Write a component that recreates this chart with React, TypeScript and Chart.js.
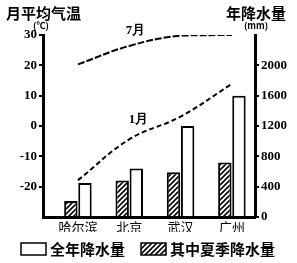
import React, { useEffect, useRef } from 'react';
import { Chart, registerables } from 'chart.js';

Chart.register(...registerables);

// ---- data ----
const cities = ['哈尔滨', '北京', '武汉', '广州'];
const annualPrecip = [450, 640, 1200, 1600]; // mm
const summerPrecip = [210, 480, 590, 720]; // mm
const julyTemp = [20.3, 26.4, 29.8, 30.0]; // °C
const janTemp = [-17.9, -4.4, 3.1, 13.9]; // °C
const tempTicks = [-30, -20, -10, 0, 10, 20, 30];
const precipTicks = [0, 400, 800, 1200, 1600, 2000, 2400];

const CJK = "'Noto Sans CJK SC', 'Noto Sans', sans-serif";
const SERIF = "'Liberation Serif', 'DejaVu Serif', serif";

const textPlugin = {
  id: 'extraTexts',
  afterDraw(chart: any) {
    const ctx = chart.ctx;
    const xs = chart.scales.x;
    const yT = chart.scales.yT;
    ctx.save();
    ctx.fillStyle = '#000';
    ctx.textBaseline = 'middle';
    ctx.font = `bold 15px ${CJK}`;
    ctx.textAlign = 'left';
    ctx.fillText('月平均气温', 6, 13);
    ctx.textAlign = 'right';
    ctx.fillText('年降水量', 286, 13);
    ctx.font = `bold 9px ${CJK}`;
    ctx.textAlign = 'center';
    ctx.fillText('(℃)', 41, 26);
    ctx.fillText('(mm)', 256, 26);
    ctx.font = `bold 13px ${SERIF}`;
    ctx.fillText('7月', xs.getPixelForValue(1.12), yT.getPixelForValue(31.6));
    ctx.fillText('1月', xs.getPixelForValue(1.18), yT.getPixelForValue(2.1));

    // legend (annual first, then summer), styled from the bar datasets
    const ds = chart.data.datasets;
    const items = [ds[1], ds[0]];
    let x = 21;
    const yBox = 243;
    const boxW = 25;
    const boxH = 12;
    ctx.font = `bold 15px ${CJK}`;
    ctx.textAlign = 'left';
    items.forEach((d: any) => {
      ctx.fillStyle = d.backgroundColor;
      ctx.fillRect(x, yBox, boxW, boxH);
      ctx.strokeStyle = '#000';
      ctx.lineWidth = 1.5;
      ctx.strokeRect(x, yBox, boxW, boxH);
      x += boxW + 4;
      ctx.fillStyle = '#000';
      ctx.fillText(d.label, x, yBox + boxH / 2 + 0.5);
      x += ctx.measureText(d.label).width + 16;
    });
    ctx.restore();
  },
};

export default function App() {
  const ref = useRef<HTMLCanvasElement | null>(null);

  useEffect(() => {
    document.body.style.margin = '0';
    const canvas = ref.current;
    if (!canvas) return;
    const ctx = canvas.getContext('2d')!;

    const pc = document.createElement('canvas');
    pc.width = 5;
    pc.height = 5;
    const p = pc.getContext('2d')!;
    p.fillStyle = '#fff';
    p.fillRect(0, 0, 5, 5);
    p.strokeStyle = '#000';
    p.lineWidth = 1.6;
    p.beginPath();
    p.moveTo(-1, 6);
    p.lineTo(6, -1);
    p.moveTo(-1, 1);
    p.lineTo(1, -1);
    p.moveTo(4, 6);
    p.lineTo(6, 4);
    p.stroke();
    const hatch = ctx.createPattern(pc, 'repeat');

    const tMin = tempTicks[0];
    const tMax = tempTicks[tempTicks.length - 1];
    const pMin = precipTicks[0];
    const pMax = precipTicks[precipTicks.length - 1];

    const chart = new Chart(ctx, {
      type: 'bar',
      data: {
        datasets: [
          {
            type: 'bar',
            label: '其中夏季降水量',
            data: summerPrecip.map((v, i) => ({ x: i, y: v })),
            yAxisID: 'yP',
            backgroundColor: hatch as any,
            borderColor: '#000',
            borderWidth: 2,
            categoryPercentage: 0.55,
            barPercentage: 0.95,
            order: 1,
          },
          {
            type: 'bar',
            label: '全年降水量',
            data: annualPrecip.map((v, i) => ({ x: i, y: v })),
            yAxisID: 'yP',
            backgroundColor: '#fff',
            borderColor: '#000',
            borderWidth: 2,
            categoryPercentage: 0.55,
            barPercentage: 0.95,
            order: 1,
          },
          {
            type: 'line',
            label: '7月',
            data: julyTemp.map((v, i) => ({ x: i, y: v })),
            yAxisID: 'yT',
            borderColor: '#000',
            borderWidth: 2,
            borderDash: [7, 2],
            pointRadius: 0,
            tension: 0.4,
            fill: false,
            order: 0,
          },
          {
            type: 'line',
            label: '1月',
            data: janTemp.map((v, i) => ({ x: i, y: v })),
            yAxisID: 'yT',
            borderColor: '#000',
            borderWidth: 2,
            borderDash: [5, 3],
            pointRadius: 0,
            tension: 0.4,
            fill: false,
            order: 0,
          },
        ] as any,
      },
      options: {
        responsive: false,
        animation: false,
        devicePixelRatio: 1,
        layout: { padding: { top: 35, bottom: 31, left: 0, right: 0 } },
        plugins: {
          tooltip: { enabled: false },
          legend: { display: false },
        },
        scales: {
          x: {
            type: 'linear',
            min: -0.68,
            max: 3.45,
            offset: false,
            afterBuildTicks: (s: any) => {
              s.ticks = cities.map((_, i) => ({ value: i }));
            },
            afterFit: (s: any) => {
              s.height = 15;
            },
            ticks: {
              autoSkip: false,
              maxRotation: 0,
              padding: 2,
              color: '#000',
              font: { family: CJK, size: 13 },
              callback: (v: any) => cities[v] ?? '',
            },
            grid: { display: false, drawTicks: false, tickLength: 0 },
            border: { display: true, color: '#000', width: 3 },
          },
          yT: {
            type: 'linear',
            position: 'left',
            min: tMin,
            max: tMax,
            afterBuildTicks: (s: any) => {
              s.ticks = tempTicks.map((v) => ({ value: v }));
            },
            afterFit: (s: any) => {
              s.width = 43;
            },
            ticks: {
              padding: 2,
              color: '#000',
              font: { family: SERIF, weight: 'bold', size: 13 },
              callback: (v: any) => (v === tMin ? '' : String(v)),
            },
            grid: {
              drawOnChartArea: false,
              drawTicks: true,
              tickLength: 4,
              lineWidth: 2,
              color: (c: any) => (c.tick && c.tick.value === tMin ? 'rgba(0,0,0,0)' : '#000'),
            },
            border: { display: true, color: '#000', width: 3 },
          },
          yP: {
            type: 'linear',
            position: 'right',
            min: pMin,
            max: pMax,
            afterBuildTicks: (s: any) => {
              s.ticks = precipTicks.map((v) => ({ value: v }));
            },
            afterFit: (s: any) => {
              s.width = 42;
            },
            ticks: {
              padding: 2,
              color: '#000',
              font: { family: SERIF, weight: 'bold', size: 13 },
              callback: (v: any) => (v === pMax ? '' : String(v)),
            },
            grid: {
              drawOnChartArea: false,
              drawTicks: true,
              tickLength: 4,
              lineWidth: 2,
              color: (c: any) => (c.tick && c.tick.value === pMax ? 'rgba(0,0,0,0)' : '#000'),
            },
            border: { display: true, color: '#000', width: 3 },
          },
        },
      } as any,
      plugins: [textPlugin],
    });

    return () => chart.destroy();
  }, []);

  return (
    <canvas
      ref={ref}
      width={297}
      height={263}
      style={{ display: 'block', width: 297, height: 263, background: '#fff' }}
    />
  );
}
